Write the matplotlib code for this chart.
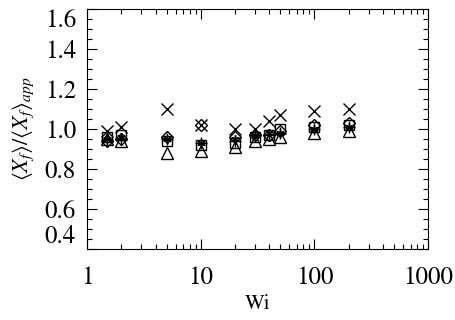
import matplotlib
matplotlib.use("Agg")
import matplotlib.pyplot as plt
from matplotlib.ticker import MultipleLocator, LogLocator, NullFormatter

plt.rcParams['font.family'] = ['STIXGeneral', 'Liberation Serif', 'DejaVu Serif']
plt.rcParams['mathtext.fontset'] = 'stix'

wi = [1.5, 2, 5, 10, 20, 30, 40, 50, 100, 200]
cross = [0.99, 1.01, 1.10, 1.02, 1.00, 1.00, 1.04, 1.07, 1.09, 1.10]
square = [0.96, 0.97, 0.94, 0.92, 0.93, 0.96, 0.97, 1.00, 1.01, 1.02]
triangle = [0.95, 0.94, 0.88, 0.89, 0.91, 0.94, 0.95, 0.96, 0.98, 0.99]
diamond = [0.94, 0.95, 0.96, 1.02, 0.96, 0.97, 0.97, 0.99, 1.02, 1.03]
plus = [0.95, 0.95, 0.95, 0.93, 0.94, 0.97, 0.97, 0.98, 1.00, 1.01]
star = [0.95, 0.96, 0.95, 0.93, 0.95, 0.97, 0.98, 0.98, 1.00, 1.01]

yticks = [0.4, 0.6, 0.8, 1.0, 1.2, 1.4, 1.6]
xticks = [1, 10, 100, 1000]
xticklabels = ['1', '10', '100', '1000']

fig = plt.figure(figsize=(4.56, 3.2), dpi=100)
ax = fig.add_axes([0.191, 0.222, 0.748, 0.750])

ms = 8
kw = dict(linestyle='none', color='black', markerfacecolor='none', markeredgewidth=1.0)
ax.plot(wi, cross, marker='x', markersize=ms, **kw)
ax.plot(wi, square, marker='s', markersize=ms - 1, **kw)
ax.plot(wi, triangle, marker='^', markersize=ms, **kw)
ax.plot(wi, diamond, marker='D', markersize=ms - 2, **kw)
ax.plot(wi, plus, marker='+', markersize=ms, **kw)
ax.plot(wi, star, marker=(6, 2, 0), markersize=ms - 2, **kw)

ax.set_xscale('log')
ax.set_xlim(1, 1000)
ax.set_ylim(0.4, 1.6)
ax.set_xticks(xticks)
ax.set_xticklabels(xticklabels)
ax.xaxis.set_minor_locator(LogLocator(base=10, subs=range(2, 10)))
ax.xaxis.set_minor_formatter(NullFormatter())
ax.set_yticks(yticks)
ax.set_yticklabels([f'{v:.1f}' for v in yticks])
ax.yaxis.set_minor_locator(MultipleLocator(0.05))

ax.tick_params(which='both', direction='in', top=True, right=True, labelsize=18, width=0.8)
ax.tick_params(which='major', length=7)
ax.tick_params(axis='x', which='major', pad=12)
ax.tick_params(axis='y', which='major', pad=8)
ax.tick_params(which='minor', length=3.5)
labs = ax.get_yticklabels()
labs[0].set_va('bottom')
labs[-1].set_va('top')
for s in ax.spines.values():
    s.set_linewidth(0.8)

ax.set_xlabel('Wi', fontsize=15, labelpad=3)
ax.set_ylabel(r'$\langle X_f\rangle/\langle X_f\rangle_{app}$', fontsize=16, labelpad=6)

fig.savefig('out.png', dpi=100)
